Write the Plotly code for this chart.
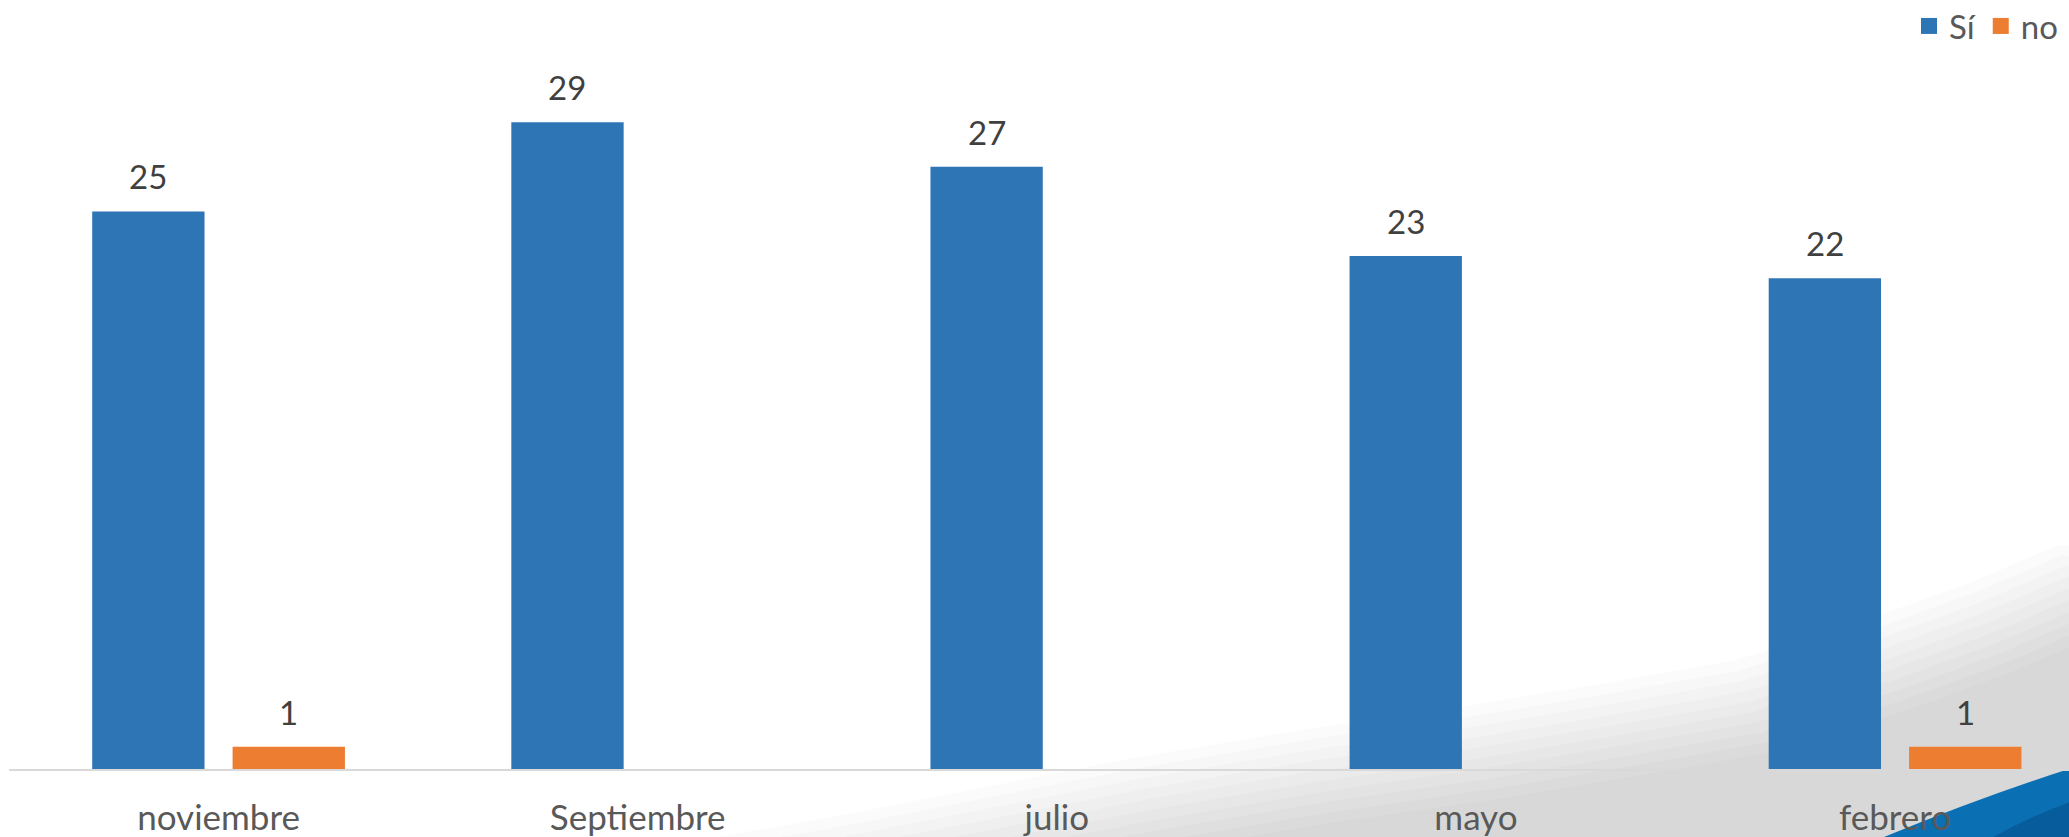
import plotly.graph_objects as go

# ---- data ----
categories = ["noviembre", "Septiembre", "julio", "mayo", "febrero"]
si_values = [25, 29, 27, 23, 22]
no_values = [1, None, None, None, 1]
series_names = ["Sí", "no"]
series_colors = ["#2E75B6", "#ED7D31"]

# ---- layout parameters ----
W, H = 2069, 837
ML, MR, MT, MB = 9, 0, 40, 68
BARGAP = 0.33
GROUPGAP = 0.2
YMAX = 32.06
XMIN, XMAX = -0.5, 4.415
FONT = "Lato"
FS = 33
FS_TICK = 35

fig = go.Figure()
all_vals = [si_values, no_values]
for name, vals, col in zip(series_names, all_vals, series_colors):
    fig.add_trace(go.Bar(x=categories, y=vals, name=name,
                         marker=dict(color=col, line=dict(width=0)),
                         showlegend=False, hoverinfo="x+y+name"))
# legend entries (square markers)
for name, col in zip(series_names, series_colors):
    fig.add_trace(go.Scatter(x=[None], y=[None], mode="markers", name=name,
                             marker=dict(symbol="square", size=24, color=col)))

# data labels above bars
slot = (1 - BARGAP) / 2
annotations = []
for j, vals in enumerate(all_vals):
    off = (j - 0.5) * slot
    for i, v in enumerate(vals):
        if v is None:
            continue
        annotations.append(dict(x=i + off, y=v, xref="x", yref="y", text=str(v),
                                showarrow=False, yanchor="bottom", yshift=13,
                                font=dict(family=FONT, size=FS, color="#404040")))

# ---- background decoration (gray shading + blue swoosh) ----
pw = W - ML - MR
ph = H - MT - MB
def px(x):
    return (x - ML) / pw
def py(y):
    return (H - MB - y) / ph

boundary = [(650, 900), (850, 865), (1000, 835), (1150, 805), (1320, 776), (1477, 753),
            (1614, 730), (1750, 706), (1887, 663), (1990, 625), (2075, 588)]
shapes = []
nx, ny = -0.35, -0.94
n_layers = 10
for k in range(n_layers):
    t = -50 + k * (100 / (n_layers - 1))
    pts = [(x + t * nx, y + t * ny) for x, y in boundary]
    d = "M{:.5f},{:.5f}".format(px(pts[0][0]), py(pts[0][1]))
    for x, y in pts[1:]:
        d += " L{:.5f},{:.5f}".format(px(x), py(y))
    d += " L{:.5f},{:.5f} L{:.5f},{:.5f} L{:.5f},{:.5f} Z".format(
        px(2200), py(pts[-1][1]), px(2200), py(950), px(pts[0][0]), py(950))
    shapes.append(dict(type="path", path=d, xref="paper", yref="paper",
                       fillcolor="rgba(120,120,120,0.028)", line=dict(width=0), layer="below"))

# blue swoosh
sw = "M{:.5f},{:.5f} Q{:.5f},{:.5f} {:.5f},{:.5f} L{:.5f},{:.5f} L{:.5f},{:.5f} Z".format(
    px(1880), py(840), px(1982), py(797), px(2072), py(768),
    px(2072), py(840), px(1880), py(840))
shapes.append(dict(type="path", path=sw, xref="paper", yref="paper",
                   fillcolor="#0B6FB3", line=dict(width=0), layer="below"))
sw2 = "M{:.5f},{:.5f} Q{:.5f},{:.5f} {:.5f},{:.5f} L{:.5f},{:.5f} Z".format(
    px(1990), py(840), px(2035), py(815), px(2072), py(802),
    px(2072), py(840))
shapes.append(dict(type="path", path=sw2, xref="paper", yref="paper",
                   fillcolor="rgba(0,50,100,0.3)", line=dict(width=0), layer="below"))

fig.update_layout(
    width=W, height=H,
    margin=dict(l=ML, r=MR, t=MT, b=MB, pad=0),
    paper_bgcolor="white", plot_bgcolor="rgba(0,0,0,0)",
    barmode="group", bargap=BARGAP, bargroupgap=GROUPGAP,
    font=dict(family=FONT, size=FS, color="#595959"),
    showlegend=True,
    legend=dict(orientation="h", x=1 - 6 / pw, xanchor="right", yref="container",
                y=1 - 26 / H, yanchor="middle", bgcolor="rgba(0,0,0,0)",
                font=dict(family=FONT, size=FS, color="#595959"),
                itemwidth=30, traceorder="normal"),
    xaxis=dict(type="category", range=[XMIN, XMAX], showline=True, linecolor="#D9D9D9",
               linewidth=2, showgrid=False, zeroline=False, ticks="outside", ticklen=17,
               tickcolor="rgba(0,0,0,0)", automargin=False,
               tickfont=dict(family=FONT, size=FS_TICK, color="#595959")),
    yaxis=dict(range=[0, YMAX], visible=False, showgrid=False, zeroline=False),
    annotations=annotations,
    shapes=shapes,
)

fig.write_html("out.html", config={"displayModeBar": False},
               post_script="document.body.style.margin='0';document.body.style.overflow='hidden';")
